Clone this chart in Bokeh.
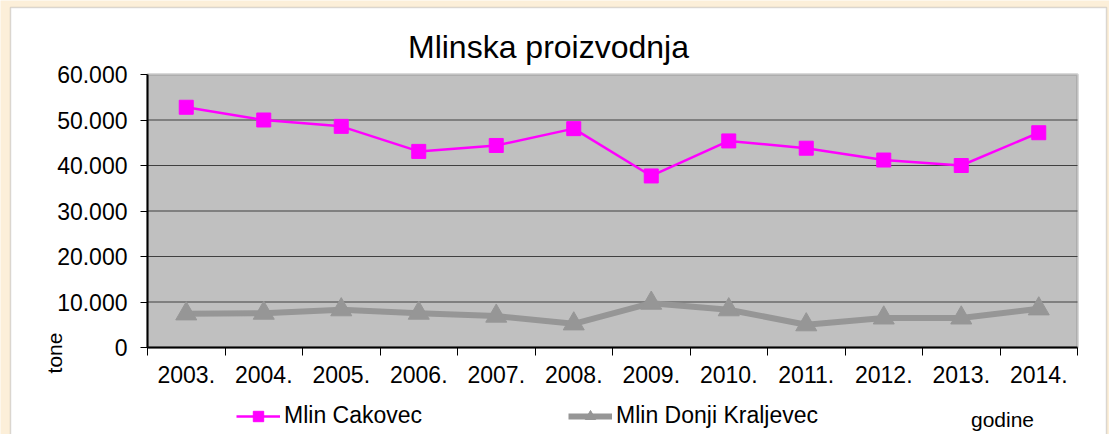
import math
from bokeh.plotting import figure
from bokeh.models import FixedTicker, Label, Legend, LegendItem, Range1d, BoxAnnotation
from bokeh.embed import file_html
from bokeh.resources import INLINE

# ---- data ----
years = ["2003.", "2004.", "2005.", "2006.", "2007.", "2008.",
         "2009.", "2010.", "2011.", "2012.", "2013.", "2014."]
mlin_cakovec = [52800, 50000, 48600, 43100, 44400, 48100,
                37700, 45400, 43800, 41200, 40000, 47200]
mlin_donji_kraljevec = [7400, 7550, 8300, 7550, 6900, 5200,
                        9750, 8300, 5000, 6500, 6500, 8500]
y_ticks = [0, 10000, 20000, 30000, 40000, 50000, 60000]
y_tick_labels = ["0", "10.000", "20.000", "30.000", "40.000", "50.000", "60.000"]
series_names = ["Mlin Cakovec", "Mlin Donji Kraljevec"]
chart_title = "Mlinska proizvodnja"
x_title = "godine"
y_title = "tone"

# ---- layout (pixels) ----
FONT = "Liberation Sans"
W, H = 1109, 434
PLOT_L, PLOT_R, PLOT_T, PLOT_B = 147, 1077, 74, 347

n = len(years)
x = list(range(1, n + 1))
boundaries = [i + 0.5 for i in range(0, n + 1)]
x_lo, x_hi = 0.5, n + 0.5
y_lo, y_hi = y_ticks[0], y_ticks[-1]
kx = (PLOT_R - PLOT_L) / (x_hi - x_lo)
ky = (PLOT_B - PLOT_T) / (y_hi - y_lo)


def px_x(px):
    return x_lo + (px - PLOT_L) / kx


def px_y(py):
    return y_lo + (PLOT_B - py) / ky


p = figure(width=W, height=H, output_backend="svg", toolbar_location=None,
           x_range=Range1d(px_x(0), px_x(W)), y_range=Range1d(px_y(H), px_y(0)),
           min_border=0)
p.title.visible = False
p.background_fill_color = "#fcefd9"
p.border_fill_color = "#fcefd9"
p.outline_line_color = None
p.xgrid.visible = False
p.ygrid.visible = False

# white chart box and grey plot area
p.add_layout(BoxAnnotation(left=px_x(10), right=px_x(1106), top=px_y(7), bottom=px_y(H + 10),
                           fill_color="white", fill_alpha=1, line_color="#8c8c8c",
                           line_width=1.5, level="image"))
p.add_layout(BoxAnnotation(left=x_lo, right=x_hi, bottom=y_lo, top=y_hi,
                           fill_color="#c0c0c0", fill_alpha=1, line_color="#808080",
                           line_width=3, level="image"))

# horizontal grid lines inside the plot area
gy = y_ticks[1:-1]
p.segment(x0=[x_lo] * len(gy), x1=[x_hi] * len(gy), y0=gy, y1=gy,
          line_color="#404040", line_width=1)

# x axis
xa = p.xaxis[0]
xa.fixed_location = y_lo
xa.bounds = (x_lo, x_hi)
xa.ticker = FixedTicker(ticks=x, minor_ticks=boundaries)
xa.major_label_overrides = {xi: yr for xi, yr in zip(x, years)}
xa.major_tick_out = 0
xa.major_tick_in = 0
xa.minor_tick_out = 8
xa.minor_tick_in = 0
xa.minor_tick_line_color = "black"
xa.axis_line_color = "black"
xa.axis_line_width = 2
xa.major_label_standoff = 10
xa.major_label_text_font = FONT
xa.major_label_text_font_size = "23px"
xa.major_label_text_color = "black"

# y axis
ya = p.yaxis[0]
ya.fixed_location = x_lo
ya.bounds = (y_lo, y_hi)
ya.ticker = FixedTicker(ticks=y_ticks)
ya.major_label_overrides = {t: s for t, s in zip(y_ticks, y_tick_labels)}
ya.major_tick_out = 7
ya.major_tick_in = 0
ya.minor_tick_out = 0
ya.minor_tick_in = 0
ya.major_tick_line_color = "black"
ya.axis_line_color = "black"
ya.axis_line_width = 2
ya.major_label_standoff = 13
ya.major_label_text_font = FONT
ya.major_label_text_font_size = "23px"
ya.major_label_text_color = "black"

# series
r1 = p.line(x, mlin_cakovec, line_color="#ff00ff", line_width=2.5)
s1 = p.scatter(x, mlin_cakovec, marker="square", size=14,
               fill_color="#ff00ff", line_color="#ff00ff")
r2 = p.line(x, mlin_donji_kraljevec, line_color="#969696", line_width=6)
s2 = p.scatter(x, mlin_donji_kraljevec, marker="triangle", size=21,
               fill_color="#969696", line_color="#969696")

legend = Legend(items=[LegendItem(label=series_names[0], renderers=[r1, s1]),
                       LegendItem(label=series_names[1], renderers=[r2, s2])],
                location=(236, H - 429), orientation="horizontal",
                glyph_width=44, glyph_height=26, label_standoff=4, spacing=146,
                padding=0, margin=0, border_line_alpha=0, background_fill_alpha=0,
                label_text_font=FONT, label_text_font_size="23px",
                label_text_color="black")
p.add_layout(legend)

p.add_layout(Label(x=px_x(548), y=px_y(46.5), text=chart_title,
                   text_align="center", text_baseline="alphabetic",
                   text_font=FONT, text_font_size="32px", text_color="black"))
p.add_layout(Label(x=px_x(1002), y=px_y(419), text=x_title,
                   text_align="center", text_baseline="alphabetic",
                   text_font=FONT, text_font_size="21px", text_color="black"))
p.add_layout(Label(x=px_x(54), y=px_y(352.5), text=y_title, angle=math.pi / 2,
                   text_align="center", text_baseline="alphabetic",
                   text_font=FONT, text_font_size="21px", text_color="black"))

open("out.html", "w").write(file_html(p, INLINE))
